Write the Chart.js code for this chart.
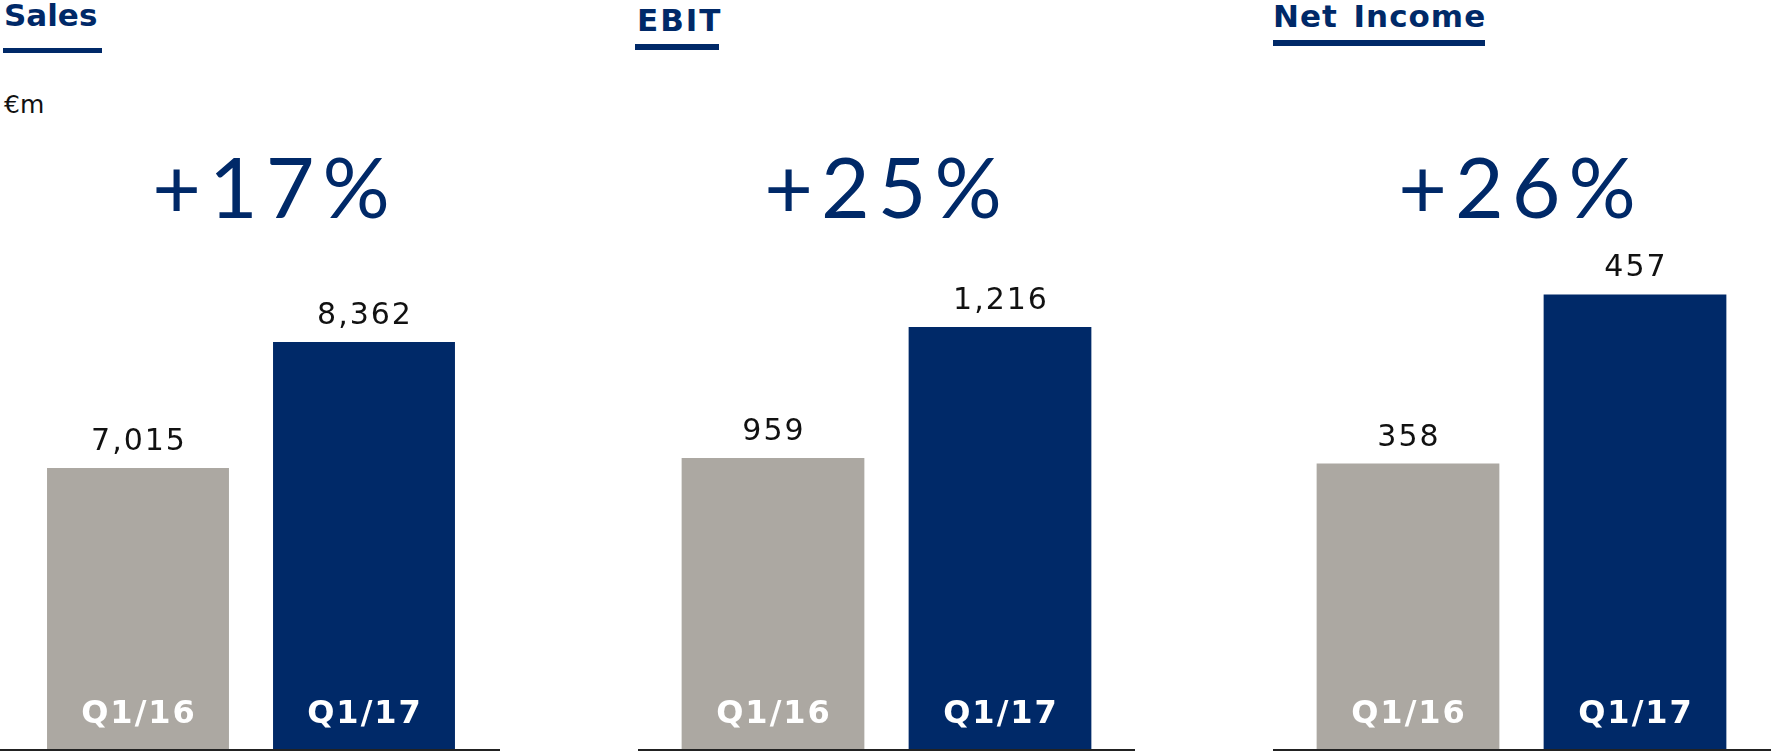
<!DOCTYPE html>
<html>
<head>
<meta charset="utf-8">
<script src="https://cdn.jsdelivr.net/npm/chart.js@4.4.0/dist/chart.umd.min.js"></script>
<style>
  body { margin: 0; width: 1771px; height: 752px; background: #fff; position: relative; overflow: hidden; font-family: "DejaVu Sans", sans-serif; }
  .title { position: absolute; font-weight: bold; font-size: 31px; line-height: 1; color: #002968; white-space: nowrap; }
  .uline { position: absolute; background: #002968; }
  .pct { position: absolute; width: 400px; text-align: center; font-family: Lato, sans-serif; font-size: 84px; line-height: 1; color: #002968; letter-spacing: 8px; }
  .unit { position: absolute; left: 4px; top: 92px; font-size: 25px; line-height: 1; color: #111; }
  canvas { position: absolute; }
</style>
</head>
<body>
<div class="title" style="left:4px; top:0px;">Sales</div>
<div class="uline" style="left:3px; top:48px; width:99px; height:5px;"></div>
<div class="title" style="left:637px; top:5px; letter-spacing:2px;">EBIT</div>
<div class="uline" style="left:635px; top:44px; width:84px; height:6px;"></div>
<div class="title" style="left:1273px; top:1px; letter-spacing:1px; word-spacing:4px;">Net Income</div>
<div class="uline" style="left:1273px; top:40px; width:212px; height:6px;"></div>
<div class="unit">€m</div>

<div class="pct" id="p0" style="left:75px; top:144px;"></div>
<div class="pct" id="p1" style="left:687px; top:144px;"></div>
<div class="pct" id="p2" style="left:1321px; top:144px;"></div>

<canvas id="c0" style="left:0px; top:250px;" width="500" height="502"></canvas>
<canvas id="c1" style="left:638px; top:250px;" width="497" height="502"></canvas>
<canvas id="c2" style="left:1273px; top:250px;" width="498" height="502"></canvas>

<script>
const periods = ['Q1/16', 'Q1/17'];
const salesValues = [7015, 8362];
const ebitValues = [959, 1216];
const netIncomeValues = [358, 457];
const growthLabels = ['+17%', '+25%', '+26%'];
// truncated value axes
const axisMin = [4011, 388, 191];
const axisMax = [9346, 1367, 483];

const barColors = ['#aca8a2', '#002968'];

document.getElementById('p0').textContent = growthLabels[0];
document.getElementById('p1').textContent = growthLabels[1];
document.getElementById('p2').textContent = growthLabels[2];

const labelPlugin = {
  id: 'labels',
  afterDatasetsDraw(chart) {
    const ctx = chart.ctx;
    const meta = chart.getDatasetMeta(0);
    const values = chart.data.datasets[0].data;
    ctx.save();
    ctx.textAlign = 'center';
    ctx.textBaseline = 'alphabetic';
    meta.data.forEach((bar, i) => {
      ctx.fillStyle = '#111';
      ctx.font = '30px "DejaVu Sans"';
      ctx.letterSpacing = '2px';
      ctx.fillText(values[i].toLocaleString('en-US'), bar.x + 1, bar.y - 18);
      ctx.fillStyle = '#fff';
      ctx.font = 'bold 32px "DejaVu Sans"';
      ctx.letterSpacing = '2px';
      ctx.fillText(chart.data.labels[i], bar.x + 1, chart.chartArea.bottom - 26);
    });
    // baseline across the whole panel
    ctx.fillStyle = '#222';
    ctx.fillRect(0, chart.chartArea.bottom, chart.width, 2);
    ctx.restore();
  }
};

function makeChart(id, values, idx, padL, padR) {
  new Chart(document.getElementById(id), {
    type: 'bar',
    data: {
      labels: periods,
      datasets: [{ data: values, backgroundColor: barColors, borderWidth: 0,
                   barPercentage: 1, categoryPercentage: 0.805 }]
    },
    options: {
      responsive: false,
      animation: false,
      layout: { padding: { left: padL, right: padR, top: 0, bottom: 3 } },
      plugins: { legend: { display: false }, tooltip: { enabled: false } },
      scales: {
        x: { display: false },
        y: { display: false, min: axisMin[idx], max: axisMax[idx] }
      }
    },
    plugins: [labelPlugin]
  });
}

makeChart('c0', salesValues, 0, 25, 23);
makeChart('c1', ebitValues, 1, 21.5, 21.5);
makeChart('c2', netIncomeValues, 2, 21.5, 22.5);
</script>
</body>
</html>
